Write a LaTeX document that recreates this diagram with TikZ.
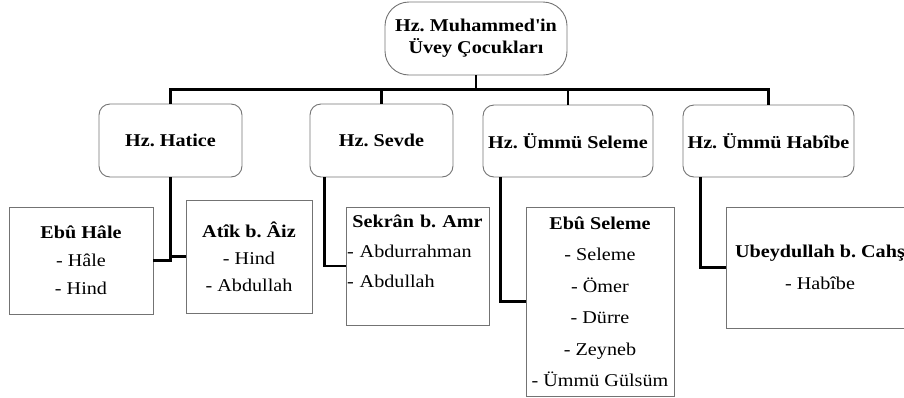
\documentclass[tikz,border=0pt]{standalone}
\usepackage{fontspec}
\setmainfont{Liberation Serif}[FakeStretch=1.12]
\frenchspacing

\begin{document}
\begin{tikzpicture}[x=1pt, y=-1pt,
  rootbox/.style={draw=black!55, line width=0.9pt, rounded corners=24pt, align=center, inner sep=0pt, font=\bfseries\fontsize{18}{22}\selectfont},
  wifebox/.style={draw=black!55, line width=0.9pt, rounded corners=11pt, inner sep=0pt, font=\bfseries\fontsize{18}{21}\selectfont},
  childbox/.style={draw=black!55, line width=0.9pt, align=center, inner sep=0pt, font=\fontsize{18}{#1}\selectfont},
  link/.style={line width=2.4pt, black}]

\useasboundingbox (0,0) rectangle (904,397);

% top box with the title
\node[rootbox, minimum width=182pt, minimum height=73pt] (root) at (476,38.5) {Hz. Muhammed\textquotesingle in\\Üvey Çocukları};

% the four wives in the second row
\node[wifebox, minimum width=143pt, minimum height=73pt] (hatice) at (170.5,140.5) {Hz. Hatice};
\node[wifebox, minimum width=143pt, minimum height=73pt] (sevde) at (381.5,140.5) {Hz. Sevde};
\node[wifebox, minimum width=170pt, minimum height=72pt] (seleme) at (568,141) {Hz. Ümmü Seleme};
\node[wifebox, minimum width=171pt, minimum height=72pt] (habibe) at (768.5,141) {Hz. Ümmü Habîbe};

% former husbands with their children
\node[childbox=28pt, minimum width=144pt, minimum height=107pt] (ebuhale) at (81,260.5) {\textbf{Ebû Hâle}\\- Hâle\\- Hind};
\node[childbox=27pt, minimum width=126pt, minimum height=113pt] (atik) at (249,256.5) {\textbf{Atîk b. Âiz}\\- Hind\\- Abdullah};
\node[childbox=30pt, minimum width=143pt, minimum height=118pt, text width=141pt, align=left] (sekran) at (417.5,266) {\makebox[\linewidth]{\textbf{Sekrân b. Amr}}\\- Abdurrahman\\- Abdullah\\\mbox{}};
\node[childbox=31.5pt, minimum width=148pt, minimum height=189pt] (ebuseleme) at (600,301.5) {\textbf{Ebû Seleme}\\- Seleme\\- Ömer\\- Dürre\\- Zeyneb\\- Ümmü Gülsüm};
% this one runs off the right edge
\node[childbox=32pt, minimum width=188pt, minimum height=121pt] (ubeydullah) at (820,267.5) {\textbf{Ubeydullah b. Cahş}\\- Habîbe};

% connect the title to the wives
\coordinate (bus) at ([yshift=-14pt]root.south);
\draw[link] (root.south) -- (bus);
\draw[link] (hatice.north) |- (bus) -| (habibe.north);
\draw[link] (sevde.north) -- (sevde.north |- bus);
\draw[link] (seleme.north) -- (seleme.north |- bus);

% connect each wife to her husbands
\draw[link] (hatice.south) |- (ebuhale.east);
\draw[link] (hatice.south |- atik.west) -- (atik.west);
\draw[link] ([xshift=15pt]sevde.south west) |- (sekran.west);
\draw[link] ([xshift=18pt]seleme.south west) |- (ebuseleme.west);
\draw[link] ([xshift=18pt]habibe.south west) |- (ubeydullah.west);

\end{tikzpicture}
\end{document}
